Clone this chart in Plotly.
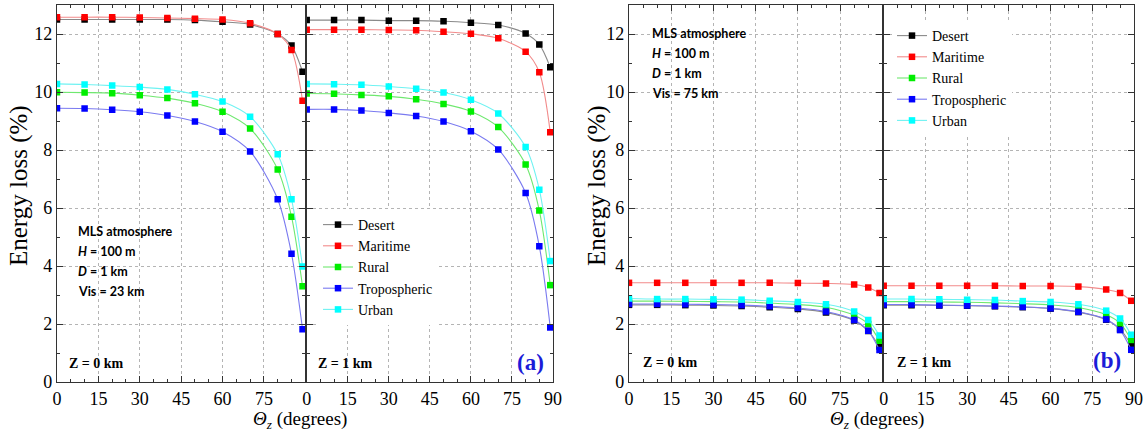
import plotly.graph_objects as go

# Zenith angles (degrees) at which the energy loss was evaluated
theta = [0, 10, 20, 30, 40, 50, 60, 70, 80, 85, 89]

# Panel (a): Vis = 23 km, Z = 0 km
desert_a0 = [12.50, 12.50, 12.50, 12.50, 12.50, 12.48, 12.42, 12.33, 12.00, 11.60, 10.70]
maritime_a0 = [12.58, 12.58, 12.58, 12.57, 12.55, 12.53, 12.50, 12.37, 12.00, 11.45, 9.70]
rural_a0 = [9.99, 9.98, 9.96, 9.89, 9.79, 9.61, 9.32, 8.74, 7.33, 5.70, 3.30]
tropo_a0 = [9.44, 9.43, 9.39, 9.32, 9.19, 8.98, 8.63, 7.95, 6.30, 4.42, 1.82]
urban_a0 = [10.28, 10.26, 10.22, 10.17, 10.09, 9.92, 9.67, 9.15, 7.85, 6.30, 3.98]

# Panel (a): Vis = 23 km, Z = 1 km
desert_a1 = [12.48, 12.48, 12.48, 12.46, 12.46, 12.44, 12.39, 12.31, 12.02, 11.64, 10.85]
maritime_a1 = [12.15, 12.15, 12.15, 12.14, 12.13, 12.08, 12.01, 11.85, 11.39, 10.68, 8.61]
rural_a1 = [9.95, 9.94, 9.90, 9.85, 9.75, 9.59, 9.33, 8.79, 7.50, 5.91, 3.34]
tropo_a1 = [9.40, 9.40, 9.36, 9.28, 9.17, 8.98, 8.65, 8.02, 6.52, 4.68, 1.88]
urban_a1 = [10.28, 10.27, 10.25, 10.19, 10.11, 9.98, 9.73, 9.26, 8.10, 6.63, 4.17]

# Panel (b): Vis = 75 km, Z = 0 km
desert_b0 = [2.66, 2.66, 2.65, 2.64, 2.62, 2.58, 2.52, 2.40, 2.12, 1.76, 1.22]
maritime_b0 = [3.42, 3.42, 3.42, 3.42, 3.42, 3.42, 3.41, 3.40, 3.36, 3.26, 3.07]
rural_b0 = [2.79, 2.79, 2.78, 2.77, 2.76, 2.72, 2.67, 2.58, 2.30, 2.00, 1.42]
tropo_b0 = [2.69, 2.69, 2.68, 2.67, 2.65, 2.61, 2.55, 2.43, 2.14, 1.77, 1.10]
urban_b0 = [2.88, 2.86, 2.86, 2.85, 2.84, 2.80, 2.76, 2.68, 2.43, 2.14, 1.60]

# Panel (b): Vis = 75 km, Z = 1 km
desert_b1 = [2.65, 2.65, 2.64, 2.63, 2.61, 2.58, 2.53, 2.41, 2.15, 1.82, 1.28]
maritime_b1 = [3.32, 3.32, 3.32, 3.32, 3.32, 3.31, 3.31, 3.29, 3.19, 3.07, 2.80]
rural_b1 = [2.77, 2.77, 2.76, 2.75, 2.73, 2.70, 2.66, 2.57, 2.32, 2.03, 1.45]
tropo_b1 = [2.67, 2.67, 2.65, 2.64, 2.62, 2.59, 2.54, 2.42, 2.16, 1.79, 1.11]
urban_b1 = [2.86, 2.86, 2.85, 2.84, 2.83, 2.79, 2.76, 2.68, 2.46, 2.19, 1.63]

aerosols = ["Desert", "Maritime", "Rural", "Tropospheric", "Urban"]
marker_colors = ["#000000", "#ff0000", "#00ee00", "#0000ff", "#00ffff"]
line_colors = ["#8a8a8a", "#f28b8b", "#6fe86f", "#7a7af0", "#6ff2f2"]

x_ticks_left = [0, 15, 30, 45, 60, 75]
x_ticks_right = [0, 15, 30, 45, 60, 75, 90]
y_ticks = [0, 2, 4, 6, 8, 10, 12]

panels = [
    ("x", "y", [desert_a0, maritime_a0, rural_a0, tropo_a0, urban_a0], "legend", True),
    ("x2", "y2", [desert_a1, maritime_a1, rural_a1, tropo_a1, urban_a1], "legend", False),
    ("x3", "y3", [desert_b0, maritime_b0, rural_b0, tropo_b0, urban_b0], "legend2", True),
    ("x4", "y4", [desert_b1, maritime_b1, rural_b1, tropo_b1, urban_b1], "legend2", False),
]

# Figure geometry in pixels
W, H = 1147, 432
L, R, T, B = 57, 13, 5, 50
PW, PH = W - L - R, H - T - B
LW = 1.4  # axis line width


def px(x):
    return (x - L) / PW


def py(y):
    return (H - B - y) / PH


fig = go.Figure()

for xa, ya, series, leg, show in panels:
    for name, vals, mc, lc in zip(aerosols, series, marker_colors, line_colors):
        fig.add_trace(go.Scatter(
            x=theta, y=vals, name=name, xaxis=xa, yaxis=ya,
            mode="lines+markers", legend=leg, showlegend=show,
            line=dict(color=lc, width=1.1, shape="spline", smoothing=0.8),
            marker=dict(symbol="square", size=6.5, color=mc, line=dict(width=0)),
        ))

serif = "Liberation Serif"
axis_color = "#333333"
tick_font = dict(family=serif, size=18, color="black")


def xaxis_style(domain, anchor, ticks):
    return dict(
        domain=domain, anchor=anchor, range=[0, 90],
        tickmode="array", tickvals=ticks,
        ticks="inside", ticklen=6, tickwidth=1.2, tickcolor=axis_color,
        showline=True, linecolor=axis_color, linewidth=LW, mirror="allticks",
        showgrid=True, gridcolor="#b4b4b4", griddash="dot", gridwidth=1,
        zeroline=False, tickfont=tick_font,
        minor=dict(tickmode="linear", tick0=0, dtick=5, ticks="inside",
                   ticklen=3, tickwidth=1, tickcolor=axis_color, showgrid=False),
    )


def yaxis_style(domain, anchor, labels, match=None):
    d = dict(
        domain=domain, anchor=anchor, range=[0, 13],
        tickmode="array", tickvals=y_ticks, showticklabels=labels,
        ticks="inside", ticklen=6, tickwidth=1.2, tickcolor=axis_color,
        showline=True, linecolor=axis_color, linewidth=LW, mirror="allticks",
        showgrid=True, gridcolor="#b4b4b4", griddash="dot", gridwidth=1,
        zeroline=False, tickfont=tick_font,
        minor=dict(tickmode="linear", tick0=0, dtick=1, ticks="inside",
                   ticklen=3, tickwidth=1, tickcolor=axis_color, showgrid=False),
    )
    if match:
        d["matches"] = match
    return d


# Neighbouring subplots are separated by one line width so that their
# shared border lines fall on top of each other.
half = LW / 2
fig.update_layout(
    width=W, height=H,
    margin=dict(l=L, r=R, t=T, b=B),
    paper_bgcolor="white", plot_bgcolor="white",
    xaxis=xaxis_style([px(57), px(306 - half)], "y", x_ticks_left),
    xaxis2=xaxis_style([px(306 + half), px(553)], "y2", x_ticks_right),
    xaxis3=xaxis_style([px(629), px(883 - half)], "y3", x_ticks_left),
    xaxis4=xaxis_style([px(883 + half), px(1134)], "y4", x_ticks_right),
    yaxis=yaxis_style([0, 1], "x", True),
    yaxis2=yaxis_style([0, 1], "x2", False, "y"),
    yaxis3=yaxis_style([0, 1], "x3", True),
    yaxis4=yaxis_style([0, 1], "x4", False, "y3"),
    legend=dict(x=px(318), y=py(209), xanchor="left", yanchor="top",
                bgcolor="white", borderwidth=0, tracegroupgap=0,
                font=dict(family=serif, size=14, color="black")),
    legend2=dict(x=px(892), y=py(20), xanchor="left", yanchor="top",
                 bgcolor="white", borderwidth=0, tracegroupgap=0,
                 font=dict(family=serif, size=14, color="black")),
    showlegend=True,
)

# White boxes keeping gridlines out from under the atmosphere notes
for x0, x1, y0, y1 in [(68, 170, 220, 305), (642, 745, 5, 107)]:
    fig.add_shape(type="rect", xref="paper", yref="paper",
                  x0=px(x0), x1=px(x1), y0=py(y1), y1=py(y0),
                  fillcolor="white", line=dict(width=0), layer="between")

note_font = dict(family="Lato", size=12.5, color="black")
notes = [
    (76, [231.5, 251.5, 271.5, 291.5], "23"),
    (650, [33.5, 53.5, 73.5, 93.5], "75"),
]
for x0, ys, vis in notes:
    lines = ["<b>MLS atmosphere</b>", "<b><i>H</i> = 100 m</b>",
             "<b><i>D</i> = 1 km</b>", f"<b>Vis = {vis} km</b>"]
    for yy, txt in zip(ys, lines):
        fig.add_annotation(text=txt, xref="paper", yref="paper",
                           x=px(x0), y=py(yy), xanchor="left", yanchor="middle",
                           showarrow=False, font=note_font)

zfont = dict(family=serif, size=14, color="black")
for x0, y0, txt in [(67, 363, "Z = 0 km"), (316, 363, "Z = 1 km"),
                    (641, 362, "Z = 0 km"), (895, 362, "Z = 1 km")]:
    fig.add_annotation(text=f"<b>{txt}</b>", xref="paper", yref="paper",
                       x=px(x0), y=py(y0), xanchor="left", yanchor="middle",
                       showarrow=False, font=zfont)

for x0, y0, txt in [(546, 362, "(a)"), (1123, 360, "(b)")]:
    fig.add_annotation(text=f"<b>{txt}</b>", xref="paper", yref="paper",
                       x=px(x0), y=py(y0), xanchor="right", yanchor="middle",
                       showarrow=False,
                       font=dict(family=serif, size=23, color="#1c1cd8"))

for xc in [19, 597]:
    fig.add_annotation(text="Energy loss (%)", xref="paper", yref="paper",
                       x=px(xc), y=py(186), xanchor="center", yanchor="middle",
                       textangle=-90, showarrow=False,
                       font=dict(family=serif, size=25, color="black"))

for xc in [300, 877]:
    fig.add_annotation(text="<i>Θ</i><sub><i>z</i></sub> (degrees)",
                       xref="paper", yref="paper",
                       x=px(xc), y=py(420), xanchor="center", yanchor="middle",
                       showarrow=False,
                       font=dict(family=serif, size=19, color="black"))

fig.write_html("out.html")
